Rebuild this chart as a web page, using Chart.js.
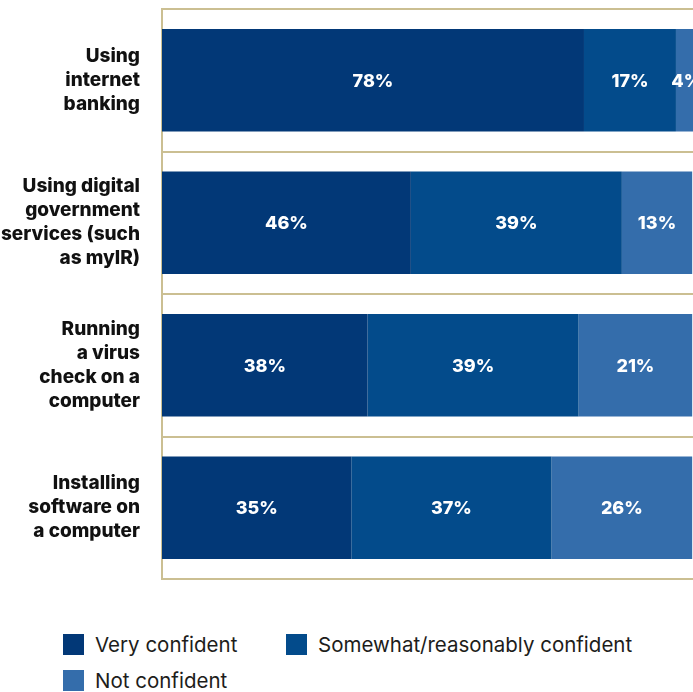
<!DOCTYPE html>
<html>
<head>
<meta charset="utf-8">
<script src="https://cdn.jsdelivr.net/npm/chart.js@4.4.1/dist/chart.umd.min.js"></script>
<style>
  html, body { margin: 0; padding: 0; background: #fff; overflow: hidden; }
  .wrap { width: 693px; height: 692px; overflow: hidden; position: relative; }
  .chart-box { width: 710px; height: 590px; position: relative; }
  .legend {
    position: absolute; left: 63px; top: 632px;
    display: grid; grid-template-columns: 223px auto; row-gap: 11px;
    font-family: Inter, "Open Sans", sans-serif; font-size: 20.5px; color: #1d1d1b;
  }
  .legend .item { display: flex; align-items: center; white-space: nowrap; }
  .legend .sw { width: 21px; height: 21px; margin-right: 11px; flex: none; }
</style>
</head>
<body>
<div class="wrap">
  <div class="chart-box"><canvas id="c"></canvas></div>
  <div class="legend" id="legend"></div>
</div>
<script>
const categories = [
  ['Using', 'internet', 'banking'],
  ['Using digital', 'government', 'services (such', 'as myIR)'],
  ['Running', 'a virus', 'check on a', 'computer'],
  ['Installing', 'software on', 'a computer']
];
const seriesNames = ['Very confident', 'Somewhat/reasonably confident', 'Not confident'];
const veryConfident = [78, 46, 38, 35];
const somewhatConfident = [17, 39, 39, 37];
const notConfident = [4, 13, 21, 26];
const colors = ['#023877', '#034b8b', '#346dab'];
const gold = '#cbbf92';

// draws the white % labels in the middle of each segment
const barLabels = {
  id: 'barLabels',
  afterDatasetsDraw(chart) {
    const ctx = chart.ctx;
    ctx.save();
    ctx.fillStyle = '#fff';
    ctx.font = '800 18px Inter, "Open Sans", sans-serif';
    ctx.textAlign = 'center';
    ctx.textBaseline = 'middle';
    chart.data.datasets.forEach((ds, i) => {
      chart.getDatasetMeta(i).data.forEach((bar, j) => {
        const p = bar.getCenterPoint();
        ctx.fillText(ds.data[j] + '%', p.x, p.y + 1);
      });
    });
    ctx.restore();
  }
};

const chart = new Chart(document.getElementById('c'), {
  type: 'bar',
  data: {
    labels: categories,
    datasets: [
      { label: seriesNames[0], data: veryConfident, backgroundColor: colors[0] },
      { label: seriesNames[1], data: somewhatConfident, backgroundColor: colors[1] },
      { label: seriesNames[2], data: notConfident, backgroundColor: colors[2] }
    ]
  },
  options: {
    indexAxis: 'y',
    responsive: true,
    maintainAspectRatio: false,
    animation: false,
    layout: { autoPadding: false, padding: { top: 9, right: 7, bottom: 11, left: 0 } },
    datasets: { bar: { categoryPercentage: 1, barPercentage: 0.72, borderWidth: 0 } },
    plugins: {
      legend: { display: false },
      tooltip: { enabled: false }
    },
    scales: {
      x: {
        stacked: true,
        min: 0,
        max: 100,
        display: false
      },
      y: {
        stacked: true,
        afterFit(scale) {
          scale.width = 162;
          // multi-line labels would otherwise push the plot in from top and bottom
          scale.paddingTop = 0;
          scale.paddingBottom = 0;
        },
        grid: { offset: true, color: gold, lineWidth: 2, drawTicks: false },
        border: { display: true, color: gold, width: 2 },
        ticks: {
          color: '#111',
          padding: 22,
          font: { family: 'Inter, "Open Sans", sans-serif', weight: '800', size: 19, lineHeight: 1.263 }
        }
      }
    }
  },
  plugins: [barLabels]
});

const legend = document.getElementById('legend');
chart.data.datasets.forEach(ds => {
  const item = document.createElement('div');
  item.className = 'item';
  item.innerHTML = '<span class="sw" style="background:' + ds.backgroundColor + '"></span><span>' + ds.label + '</span>';
  legend.appendChild(item);
});
</script>
</body>
</html>
